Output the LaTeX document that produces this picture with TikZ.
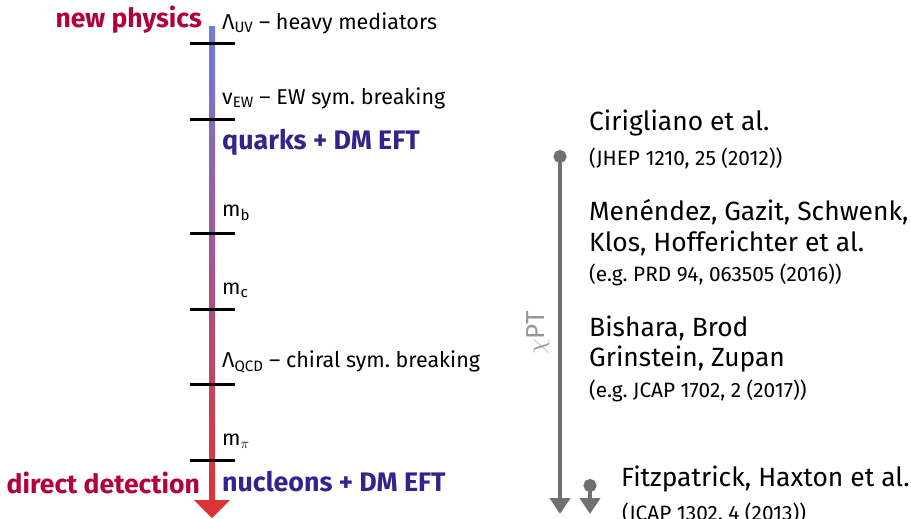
\documentclass[tikz,border=0pt]{standalone}
\usepackage{fontspec}
\setmainfont{Fira Sans}
\frenchspacing
\usetikzlibrary{arrows.meta}
\definecolor{npred}{RGB}{178,0,60}
\definecolor{eftblue}{RGB}{50,36,140}
\definecolor{bartop}{RGB}{110,125,215}
\definecolor{barmid}{RGB}{165,85,140}
\definecolor{barbot}{RGB}{220,52,52}
\definecolor{refgray}{RGB}{112,112,112}
\definecolor{chigray}{RGB}{150,150,150}
\tikzset{
  tick/.style={line width=3pt, black},
  scalelbl/.style={anchor=west, font=\fontsize{21.5}{24}\selectfont, inner sep=0pt},
  regionlbl/.style={anchor=west, font=\fontsize{26.8}{30}\selectfont\bfseries, text=eftblue, inner sep=0pt},
  endlbl/.style={anchor=east, font=\fontsize{26.5}{30}\selectfont\bfseries, text=npred, inner sep=0pt},
  authlbl/.style={anchor=west, font=\fontsize{26.4}{30}\selectfont, inner sep=0pt},
  reflbl/.style={anchor=west, font=\fontsize{20.8}{24}\selectfont, inner sep=0pt},
  grayarrow/.style={line width=4pt, refgray, {Circle[length=13pt]}-{Triangle[width=20pt,length=16pt]}},
}
\begin{document}
\begin{tikzpicture}[x=1pt,y=-1pt]
\useasboundingbox (0,0) rectangle (911,519);
% main scale bar
\coordinate (bartop) at (212,27);
\coordinate (barend) at (212,500);
\coordinate (bartip) at (212,518);
\shade[top color=bartop, bottom color=barbot, middle color=barmid] (209,27) rectangle (215,501);
\fill[barbot] (194,500) -- (230,500) -- (bartip) -- cycle;
% ticks
\foreach \yy/\nm in {44/t1,119/t2,233/t3,309/t4,384/t5,460/t6}{
  \coordinate (\nm a) at (190,\yy);
  \coordinate (\nm b) at (235,\yy);
  \draw[tick] (\nm a) -- (\nm b);
}
% labels
\node[scalelbl] (luv) at (222,23) {Λ\textsubscript{UV} – heavy mediators};
\node[scalelbl] (lew) at (222,98) {v\textsubscript{EW} – EW sym. breaking};
\node[regionlbl] (quarks) at (222,142) {quarks + DM EFT};
\node[scalelbl] (mb) at (222,213) {m\textsubscript{b}};
\node[scalelbl] (mc) at (222,290) {m\textsubscript{c}};
\node[scalelbl] (lqcd) at (222,362) {Λ\textsubscript{QCD} – chiral sym. breaking};
\node[scalelbl] (mpi) at (222,441) {m\textsubscript{$\pi$}};
\node[regionlbl] (nucl) at (222,482) {nucleons + DM EFT};
\node[endlbl] (newph) at (202,20) {new physics};
\node[endlbl] (dd) at (200,483) {direct detection};
% chiPT arrows
\coordinate (c1) at (560,150);
\coordinate (c1e) at (560,514);
\coordinate (c2) at (590,479);
\coordinate (c2e) at (590,514);
\draw[grayarrow] (c1) -- (c1e);
\draw[grayarrow] (c2) -- (c2e);
\node[rotate=90, text=chigray, font=\fontsize{26}{28}\selectfont, inner sep=0pt] (chipt) at (538,333) {$\chi$PT};
% references
\node[authlbl] (cir) at (589,123) {Cirigliano et al.};
\node[reflbl] (cirref) at (589,158) {(JHEP 1210, 25 (2012))};
\node[authlbl] (men1) at (589,212) {Menéndez, Gazit, Schwenk,};
\node[authlbl] (men2) at (589,243) {Klos, Hofferichter et al.};
\node[reflbl] (menref) at (589,275) {(e.g. PRD 94, 063505 (2016))};
\node[authlbl] (bis1) at (589,328) {Bishara, Brod};
\node[authlbl] (bis2) at (589,359) {Grinstein, Zupan};
\node[reflbl] (bisref) at (589,391) {(e.g. JCAP 1702, 2 (2017))};
\node[authlbl] (fitz) at (621,479) {Fitzpatrick, Haxton et al.};
\node[reflbl] (fitzref) at (622,513) {(JCAP 1302, 4 (2013))};
\end{tikzpicture}
\end{document}
